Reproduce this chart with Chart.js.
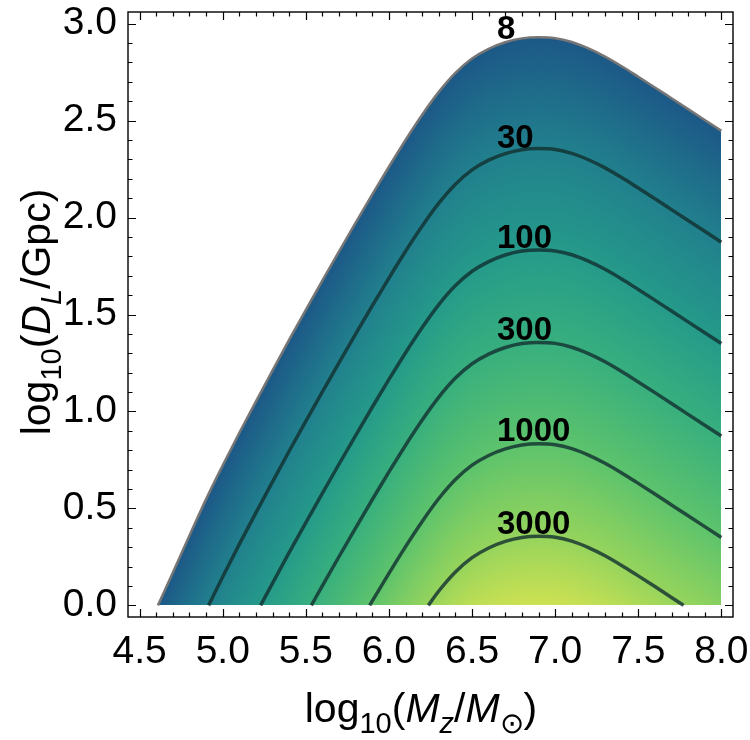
<!DOCTYPE html>
<html>
<head>
  <meta charset="UTF-8">
  <title>SNR contours</title>
  <script src="https://cdn.jsdelivr.net/npm/chart.js"></script>
  <style>
    * { margin: 0; padding: 0; }
    body { background: #fff; }
    #chart { display: block; }
  </style>
</head>
<body>
<canvas id="chart" width="750" height="740"></canvas>

<script>
  // contour levels (SNR) and their labels
  const levels = [8, 30, 100, 300, 1000, 3000];
  const levelLabels = ['8', '30', '100', '300', '1000', '3000'];

  // tick values
  const xTicks = [4.5, 5.0, 5.5, 6.0, 6.5, 7.0, 7.5, 8.0];
  const yTicks = [0.0, 0.5, 1.0, 1.5, 2.0, 2.5, 3.0];

  // contour SNR = 8 : log10(Mz/Msun) vs log10(DL/Gpc)
  const c8x = [4.61, 4.70, 4.80, 4.90, 5.00, 5.10, 5.20, 5.30, 5.40, 5.50, 5.60, 5.70, 5.80, 5.90, 6.00, 6.10, 6.20, 6.30, 6.40, 6.50, 6.60, 6.70, 6.80, 6.90, 7.00, 7.10, 7.20, 7.30, 7.40, 7.50, 7.60, 7.70, 7.80, 7.90, 8.00];
  const c8y = [0.000, 0.170, 0.360, 0.548, 0.722, 0.890, 1.052, 1.212, 1.370, 1.524, 1.676, 1.826, 1.974, 2.120, 2.262, 2.400, 2.530, 2.648, 2.746, 2.820, 2.870, 2.904, 2.924, 2.930, 2.925, 2.905, 2.872, 2.830, 2.780, 2.726, 2.671, 2.615, 2.559, 2.503, 2.447];

  // contour SNR = 30
  const c30x = [4.915, 5.00, 5.10, 5.20, 5.30, 5.40, 5.50, 5.60, 5.70, 5.80, 5.90, 6.00, 6.10, 6.20, 6.30, 6.40, 6.50, 6.60, 6.70, 6.80, 6.90, 7.00, 7.10, 7.20, 7.30, 7.40, 7.50, 7.60, 7.70, 7.80, 7.90, 8.00];
  const c30y = [0.000, 0.148, 0.316, 0.478, 0.638, 0.796, 0.950, 1.102, 1.252, 1.400, 1.546, 1.688, 1.826, 1.956, 2.074, 2.172, 2.246, 2.296, 2.330, 2.350, 2.356, 2.351, 2.331, 2.298, 2.256, 2.206, 2.152, 2.097, 2.041, 1.985, 1.929, 1.873];

  // contour SNR = 100
  const c100x = [5.228, 5.30, 5.40, 5.50, 5.60, 5.70, 5.80, 5.90, 6.00, 6.10, 6.20, 6.30, 6.40, 6.50, 6.60, 6.70, 6.80, 6.90, 7.00, 7.10, 7.20, 7.30, 7.40, 7.50, 7.60, 7.70, 7.80, 7.90, 8.00];
  const c100y = [0.000, 0.115, 0.273, 0.427, 0.579, 0.729, 0.877, 1.023, 1.165, 1.303, 1.433, 1.551, 1.649, 1.723, 1.773, 1.807, 1.827, 1.833, 1.828, 1.808, 1.775, 1.733, 1.683, 1.629, 1.574, 1.518, 1.462, 1.406, 1.350];

  // contour SNR = 300
  const c300x = [5.533, 5.60, 5.70, 5.80, 5.90, 6.00, 6.10, 6.20, 6.30, 6.40, 6.50, 6.60, 6.70, 6.80, 6.90, 7.00, 7.10, 7.20, 7.30, 7.40, 7.50, 7.60, 7.70, 7.80, 7.90, 8.00];
  const c300y = [0.000, 0.102, 0.252, 0.400, 0.546, 0.688, 0.826, 0.956, 1.074, 1.172, 1.246, 1.296, 1.330, 1.350, 1.356, 1.351, 1.331, 1.298, 1.256, 1.206, 1.152, 1.097, 1.041, 0.985, 0.929, 0.873];

  // contour SNR = 1000
  const c1000x = [5.884, 5.90, 6.00, 6.10, 6.20, 6.30, 6.40, 6.50, 6.60, 6.70, 6.80, 6.90, 7.00, 7.10, 7.20, 7.30, 7.40, 7.50, 7.60, 7.70, 7.80, 7.90, 8.00];
  const c1000y = [0.000, 0.023, 0.165, 0.303, 0.433, 0.551, 0.649, 0.723, 0.773, 0.807, 0.827, 0.833, 0.828, 0.808, 0.775, 0.733, 0.683, 0.629, 0.574, 0.518, 0.462, 0.406, 0.350];

  // contour SNR = 3000
  const c3000x = [6.237, 6.30, 6.40, 6.50, 6.60, 6.70, 6.80, 6.90, 7.00, 7.10, 7.20, 7.30, 7.40, 7.50, 7.60, 7.70, 7.773];
  const c3000y = [0.000, 0.074, 0.172, 0.246, 0.296, 0.330, 0.350, 0.356, 0.351, 0.331, 0.298, 0.256, 0.206, 0.152, 0.097, 0.041, 0.000];

  const contourX = [c8x, c30x, c100x, c300x, c1000x, c3000x];
  const contourY = [c8y, c30y, c100y, c300y, c1000y, c3000y];

  // colour scale against log10(SNR)
  const colourStops = [
    [0.903, [28, 88, 135]],
    [1.477, [33, 128, 141]],
    [2.000, [37, 154, 138]],
    [2.477, [56, 175, 126]],
    [3.000, [93, 195, 108]],
    [3.477, [150, 212, 92]],
    [3.850, [208, 226, 82]]
  ];

  const FONT = "'Liberation Sans', Arial, sans-serif";

  // linear interpolation along a contour, extended past its ends
  function yAt(xa, ya, x) {
    const n = xa.length;
    if (x <= xa[0]) return ya[0] + (ya[1] - ya[0]) / (xa[1] - xa[0]) * (x - xa[0]);
    if (x >= xa[n - 1]) return ya[n - 1] + (ya[n - 1] - ya[n - 2]) / (xa[n - 1] - xa[n - 2]) * (x - xa[n - 1]);
    for (let i = 1; i < n; i++) {
      if (x <= xa[i]) {
        const t = (x - xa[i - 1]) / (xa[i] - xa[i - 1]);
        return ya[i - 1] + t * (ya[i] - ya[i - 1]);
      }
    }
  }

  function colourFor(L) {
    if (L <= colourStops[0][0]) return colourStops[0][1];
    for (let i = 1; i < colourStops.length; i++) {
      if (L <= colourStops[i][0]) {
        const a = colourStops[i - 1], b = colourStops[i];
        const t = (L - a[0]) / (b[0] - a[0]);
        return a[1].map((v, k) => v + t * (b[1][k] - v));
      }
    }
    return colourStops[colourStops.length - 1][1];
  }

  // smooth shading between the contours, drawn under the lines
  const shading = {
    id: 'shading',
    beforeDatasetsDraw(chart) {
      const { ctx, chartArea: a, scales: { x, y } } = chart;
      const w = Math.round(a.right - a.left), h = Math.round(a.bottom - a.top);
      const off = document.createElement('canvas');
      off.width = w; off.height = h;
      const octx = off.getContext('2d');
      const img = octx.createImageData(w, h);
      const lg = levels.map(v => Math.log10(v));
      const xMin = c8x[0], xMax = c8x[c8x.length - 1];
      for (let i = 0; i < w; i++) {
        const xv = x.getValueForPixel(a.left + i + 0.5);
        if (xv < xMin || xv > xMax) continue;
        const yc = contourX.map((xa, k) => yAt(xa, contourY[k], xv));
        for (let j = 0; j < h; j++) {
          const yv = y.getValueForPixel(a.top + j + 0.5);
          if (yv > yc[0] || yv < 0) continue;
          let L = null;
          for (let k = 0; k < yc.length - 1; k++) {
            if (yv >= yc[k + 1]) {
              const t = (yc[k] - yv) / (yc[k] - yc[k + 1]);
              L = lg[k] + t * (lg[k + 1] - lg[k]);
              break;
            }
          }
          if (L === null) {
            const n = yc.length - 1;
            L = lg[n] + (yc[n] - yv) / (yc[n - 1] - yc[n]) * (lg[n] - lg[n - 1]);
          }
          const c = colourFor(L);
          const p = (j * w + i) * 4;
          img.data[p] = c[0]; img.data[p + 1] = c[1]; img.data[p + 2] = c[2]; img.data[p + 3] = 255;
        }
      }
      octx.putImageData(img, 0, 0);
      ctx.drawImage(off, a.left, a.top);
    }
  };

  // contour labels just above each curve
  const contourLabels = {
    id: 'contourLabels',
    afterDatasetsDraw(chart) {
      const { ctx, scales: { x, y } } = chart;
      ctx.save();
      ctx.font = 'bold 33px ' + FONT;
      ctx.fillStyle = '#000';
      ctx.textAlign = 'left';
      ctx.textBaseline = 'alphabetic';
      const left = x.getPixelForValue(6.65);
      levelLabels.forEach((txt, k) => {
        const wpx = ctx.measureText(txt).width;
        const xc = x.getValueForPixel(left + wpx / 2);
        const py = y.getPixelForValue(yAt(contourX[k], contourY[k], xc));
        ctx.fillText(txt, left, py - 3);
      });
      ctx.restore();
    }
  };

  // Mathematica style frame with inward ticks on all sides
  const frame = {
    id: 'frame',
    afterDraw(chart) {
      const { ctx, chartArea: a, scales: { x, y } } = chart;
      ctx.save();
      ctx.strokeStyle = '#000';
      ctx.lineWidth = 1.4;
      ctx.strokeRect(a.left, a.top, a.right - a.left, a.bottom - a.top);
      ctx.lineWidth = 1.2;
      ctx.beginPath();
      for (let k = 0; k <= 35; k++) {
        const v = 4.5 + k * 0.1;
        const len = k % 5 === 0 ? 8 : 4.5;
        const px = Math.round(x.getPixelForValue(v)) + 0.5;
        ctx.moveTo(px, a.bottom); ctx.lineTo(px, a.bottom - len);
        ctx.moveTo(px, a.top); ctx.lineTo(px, a.top + len);
      }
      for (let k = 0; k <= 30; k++) {
        const v = k * 0.1;
        const len = k % 5 === 0 ? 8 : 4.5;
        const py = Math.round(y.getPixelForValue(v)) + 0.5;
        ctx.moveTo(a.left, py); ctx.lineTo(a.left + len, py);
        ctx.moveTo(a.right, py); ctx.lineTo(a.right - len, py);
      }
      ctx.stroke();
      ctx.restore();
    }
  };

  // axis titles with subscripts and italics
  function richText(ctx, parts, size) {
    const fontOf = p => (p.it ? 'italic ' : '') + Math.round(p.sub ? size * 0.7 : size) + 'px ' + FONT;
    let total = 0;
    parts.forEach(p => { ctx.font = fontOf(p); total += ctx.measureText(p.t).width; });
    let cx = -total / 2;
    parts.forEach(p => {
      ctx.font = fontOf(p);
      ctx.fillText(p.t, cx, p.sub ? size * 0.28 : 0);
      cx += ctx.measureText(p.t).width;
    });
  }

  const axisTitles = {
    id: 'axisTitles',
    afterDraw(chart) {
      const { ctx } = chart;
      ctx.save();
      ctx.fillStyle = '#000';
      ctx.textAlign = 'left';
      ctx.textBaseline = 'alphabetic';
      ctx.translate(421, 722);
      richText(ctx, [
        { t: 'log' }, { t: '10', sub: true }, { t: '(' }, { t: 'M', it: true },
        { t: 'z', it: true, sub: true }, { t: '/' }, { t: 'M', it: true },
        { t: '\u2299', sub: true }, { t: ')' }
      ], 41);
      ctx.restore();
      ctx.save();
      ctx.fillStyle = '#000';
      ctx.textAlign = 'left';
      ctx.textBaseline = 'alphabetic';
      ctx.translate(50, 312);
      ctx.rotate(-Math.PI / 2);
      richText(ctx, [
        { t: 'log' }, { t: '10', sub: true }, { t: '(' }, { t: 'D', it: true },
        { t: 'L', it: true, sub: true }, { t: '/Gpc)' }
      ], 41);
      ctx.restore();
    }
  };

  const lineColours = ['rgb(118,118,118)', 'rgba(18,48,48,0.8)', 'rgba(18,48,48,0.8)', 'rgba(18,48,48,0.8)', 'rgba(18,48,48,0.8)', 'rgba(18,48,48,0.8)'];

  new Chart(document.getElementById('chart'), {
    type: 'line',
    data: {
      datasets: levels.map((lv, k) => ({
        label: 'SNR ' + lv,
        data: contourX[k].map((xv, i) => ({ x: xv, y: contourY[k][i] })),
        borderColor: lineColours[k],
        borderWidth: k === 0 ? 2.5 : 3.5,
        pointRadius: 0,
        fill: false,
        cubicInterpolationMode: 'monotone'
      }))
    },
    options: {
      responsive: false,
      animation: false,
      layout: { padding: { left: 0, right: 17, top: 12, bottom: 0 } },
      plugins: { legend: { display: false }, tooltip: { enabled: false } },
      scales: {
        x: {
          type: 'linear',
          min: 4.43,
          max: 8.07,
          grid: { display: false, drawTicks: false },
          border: { display: false },
          afterBuildTicks: s => { s.ticks = xTicks.map(v => ({ value: v })); },
          afterFit: s => { s.height = 123; s.paddingLeft = 0; s.paddingRight = 0; },
          ticks: {
            autoSkip: false,
            maxRotation: 0,
            padding: 12,
            color: '#000',
            font: { family: FONT, size: 39 },
            callback: v => v.toFixed(1)
          }
        },
        y: {
          type: 'linear',
          min: -0.06,
          max: 3.06,
          grid: { display: false, drawTicks: false },
          border: { display: false },
          afterBuildTicks: s => { s.ticks = yTicks.map(v => ({ value: v })); },
          afterFit: s => { s.width = 128; s.paddingTop = 0; s.paddingBottom = 0; },
          ticks: {
            autoSkip: false,
            padding: 11,
            color: '#000',
            font: { family: FONT, size: 39 },
            callback: v => v.toFixed(1)
          }
        }
      }
    },
    plugins: [shading, contourLabels, frame, axisTitles]
  });
</script>
</body>
</html>
